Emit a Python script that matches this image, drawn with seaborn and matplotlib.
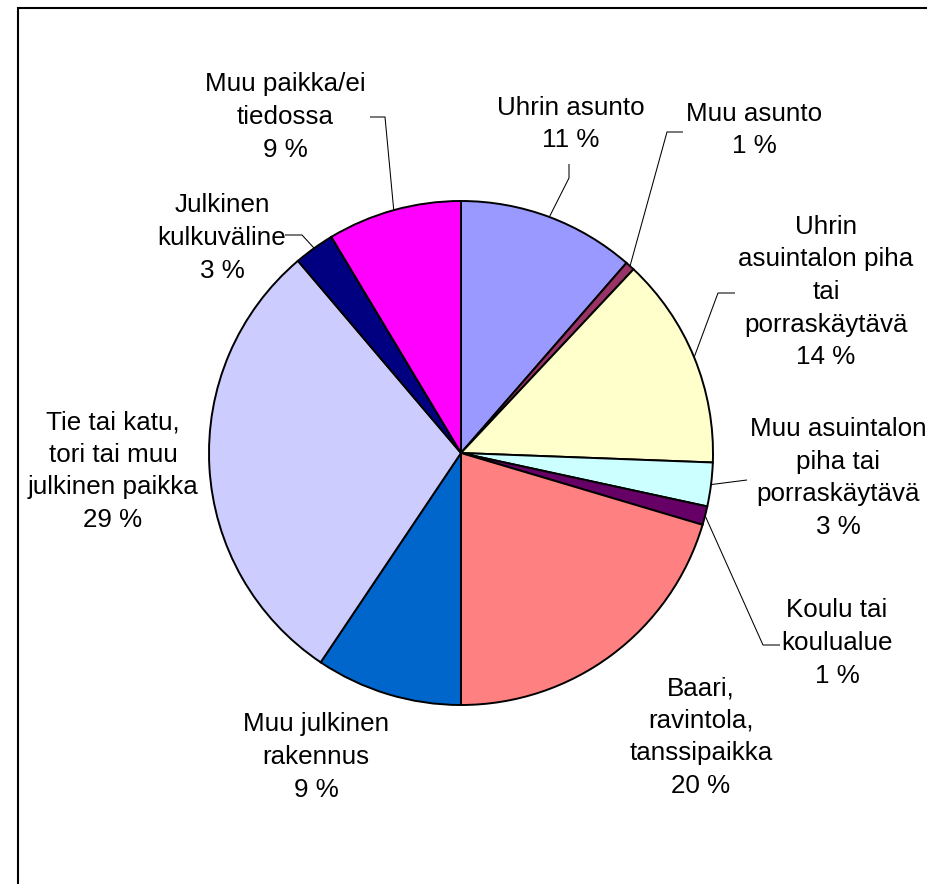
import numpy as np
import matplotlib
matplotlib.use("Agg")
import matplotlib.pyplot as plt
from matplotlib.patches import Rectangle
import seaborn as sns

# ---- data ----
categories = [
    "Uhrin asunto",
    "Muu asunto",
    "Uhrin\nasuintalon piha\ntai\nporraskäytävä",
    "Muu asuintalon\npiha tai\nporraskäytävä",
    "Koulu tai\nkoulualue",
    "Baari,\nravintola,\ntanssipaikka",
    "Muu julkinen\nrakennus",
    "Tie tai katu,\ntori tai muu\njulkinen paikka",
    "Julkinen\nkulkuväline",
    "Muu paikka/ei\ntiedossa",
]
shares = [11.4, 0.6, 13.6, 2.8, 1.2, 20.4, 9.4, 29.4, 2.6, 8.6]
colors = ["#9999FF", "#993366", "#FFFFCC", "#CCFFFF", "#660066",
          "#FF8080", "#0066CC", "#CCCCFF", "#000080", "#FF00FF"]

# ---- layout (pixel coordinates, y from top) ----
W, H = 927, 884
center_px = (461, 453)
radius_px = 252
label_pos = [(571, 124), (754, 130), (826, 292), (838, 478), (837, 643),
             (701, 737), (316, 757), (113, 471), (222, 238), (285, 117)]
# leader line bend points (label side), None = no leader
leader_pts = [
    [(569, 164), (569, 178)],
    [(683, 132), (667, 132)],
    [(735, 293), (718, 293)],
    [(747, 480)],
    [(780, 645), (763, 645)],
    None, None, None,
    [(285, 235), (302, 235)],
    [(370, 117), (385, 117)],
]

sns.set_theme(style="white")
plt.rcParams["font.family"] = ["Liberation Sans", "DejaVu Sans"]

def d(p):
    return (p[0], H - p[1])

fig = plt.figure(figsize=(W / 100, H / 100), dpi=100)
fig.patch.set_facecolor("white")
ax = fig.add_axes([0, 0, 1, 1])

cx, cy = d(center_px)
wedges, _ = ax.pie(shares, colors=colors, startangle=90, counterclock=False,
                   center=(cx, cy), radius=radius_px,
                   wedgeprops=dict(edgecolor="black", linewidth=1.4),
                   frame=True)
ax.set_xlim(0, W)
ax.set_ylim(0, H)
ax.set_axis_off()

total = sum(shares)
cum = 0.0
for i, (cat, v) in enumerate(zip(categories, shares)):
    mid = (cum + v / 2) / total
    cum += v
    pct = int(v + 0.5)
    txt = f"{cat}\n{pct} %"
    lx, ly = d(label_pos[i])
    ax.text(lx, ly, txt, ha="center", va="center", multialignment="center",
            fontsize=18.7, linespacing=1.45, color="black")
    if leader_pts[i] is not None:
        ang = 2 * np.pi * mid
        ex = cx + radius_px * np.sin(ang)
        ey = cy + radius_px * np.cos(ang)
        pts = [d(p) for p in leader_pts[i]] + [(ex, ey)]
        xs, ys = zip(*pts)
        ax.plot(xs, ys, color="black", linewidth=0.75, solid_capstyle="butt")

# chart-area frame
ax.add_patch(Rectangle((18, -20), W, H - 8 + 20, fill=False,
                       edgecolor="black", linewidth=1.5, clip_on=False))

fig.savefig("out.png", dpi=100, facecolor="white")
